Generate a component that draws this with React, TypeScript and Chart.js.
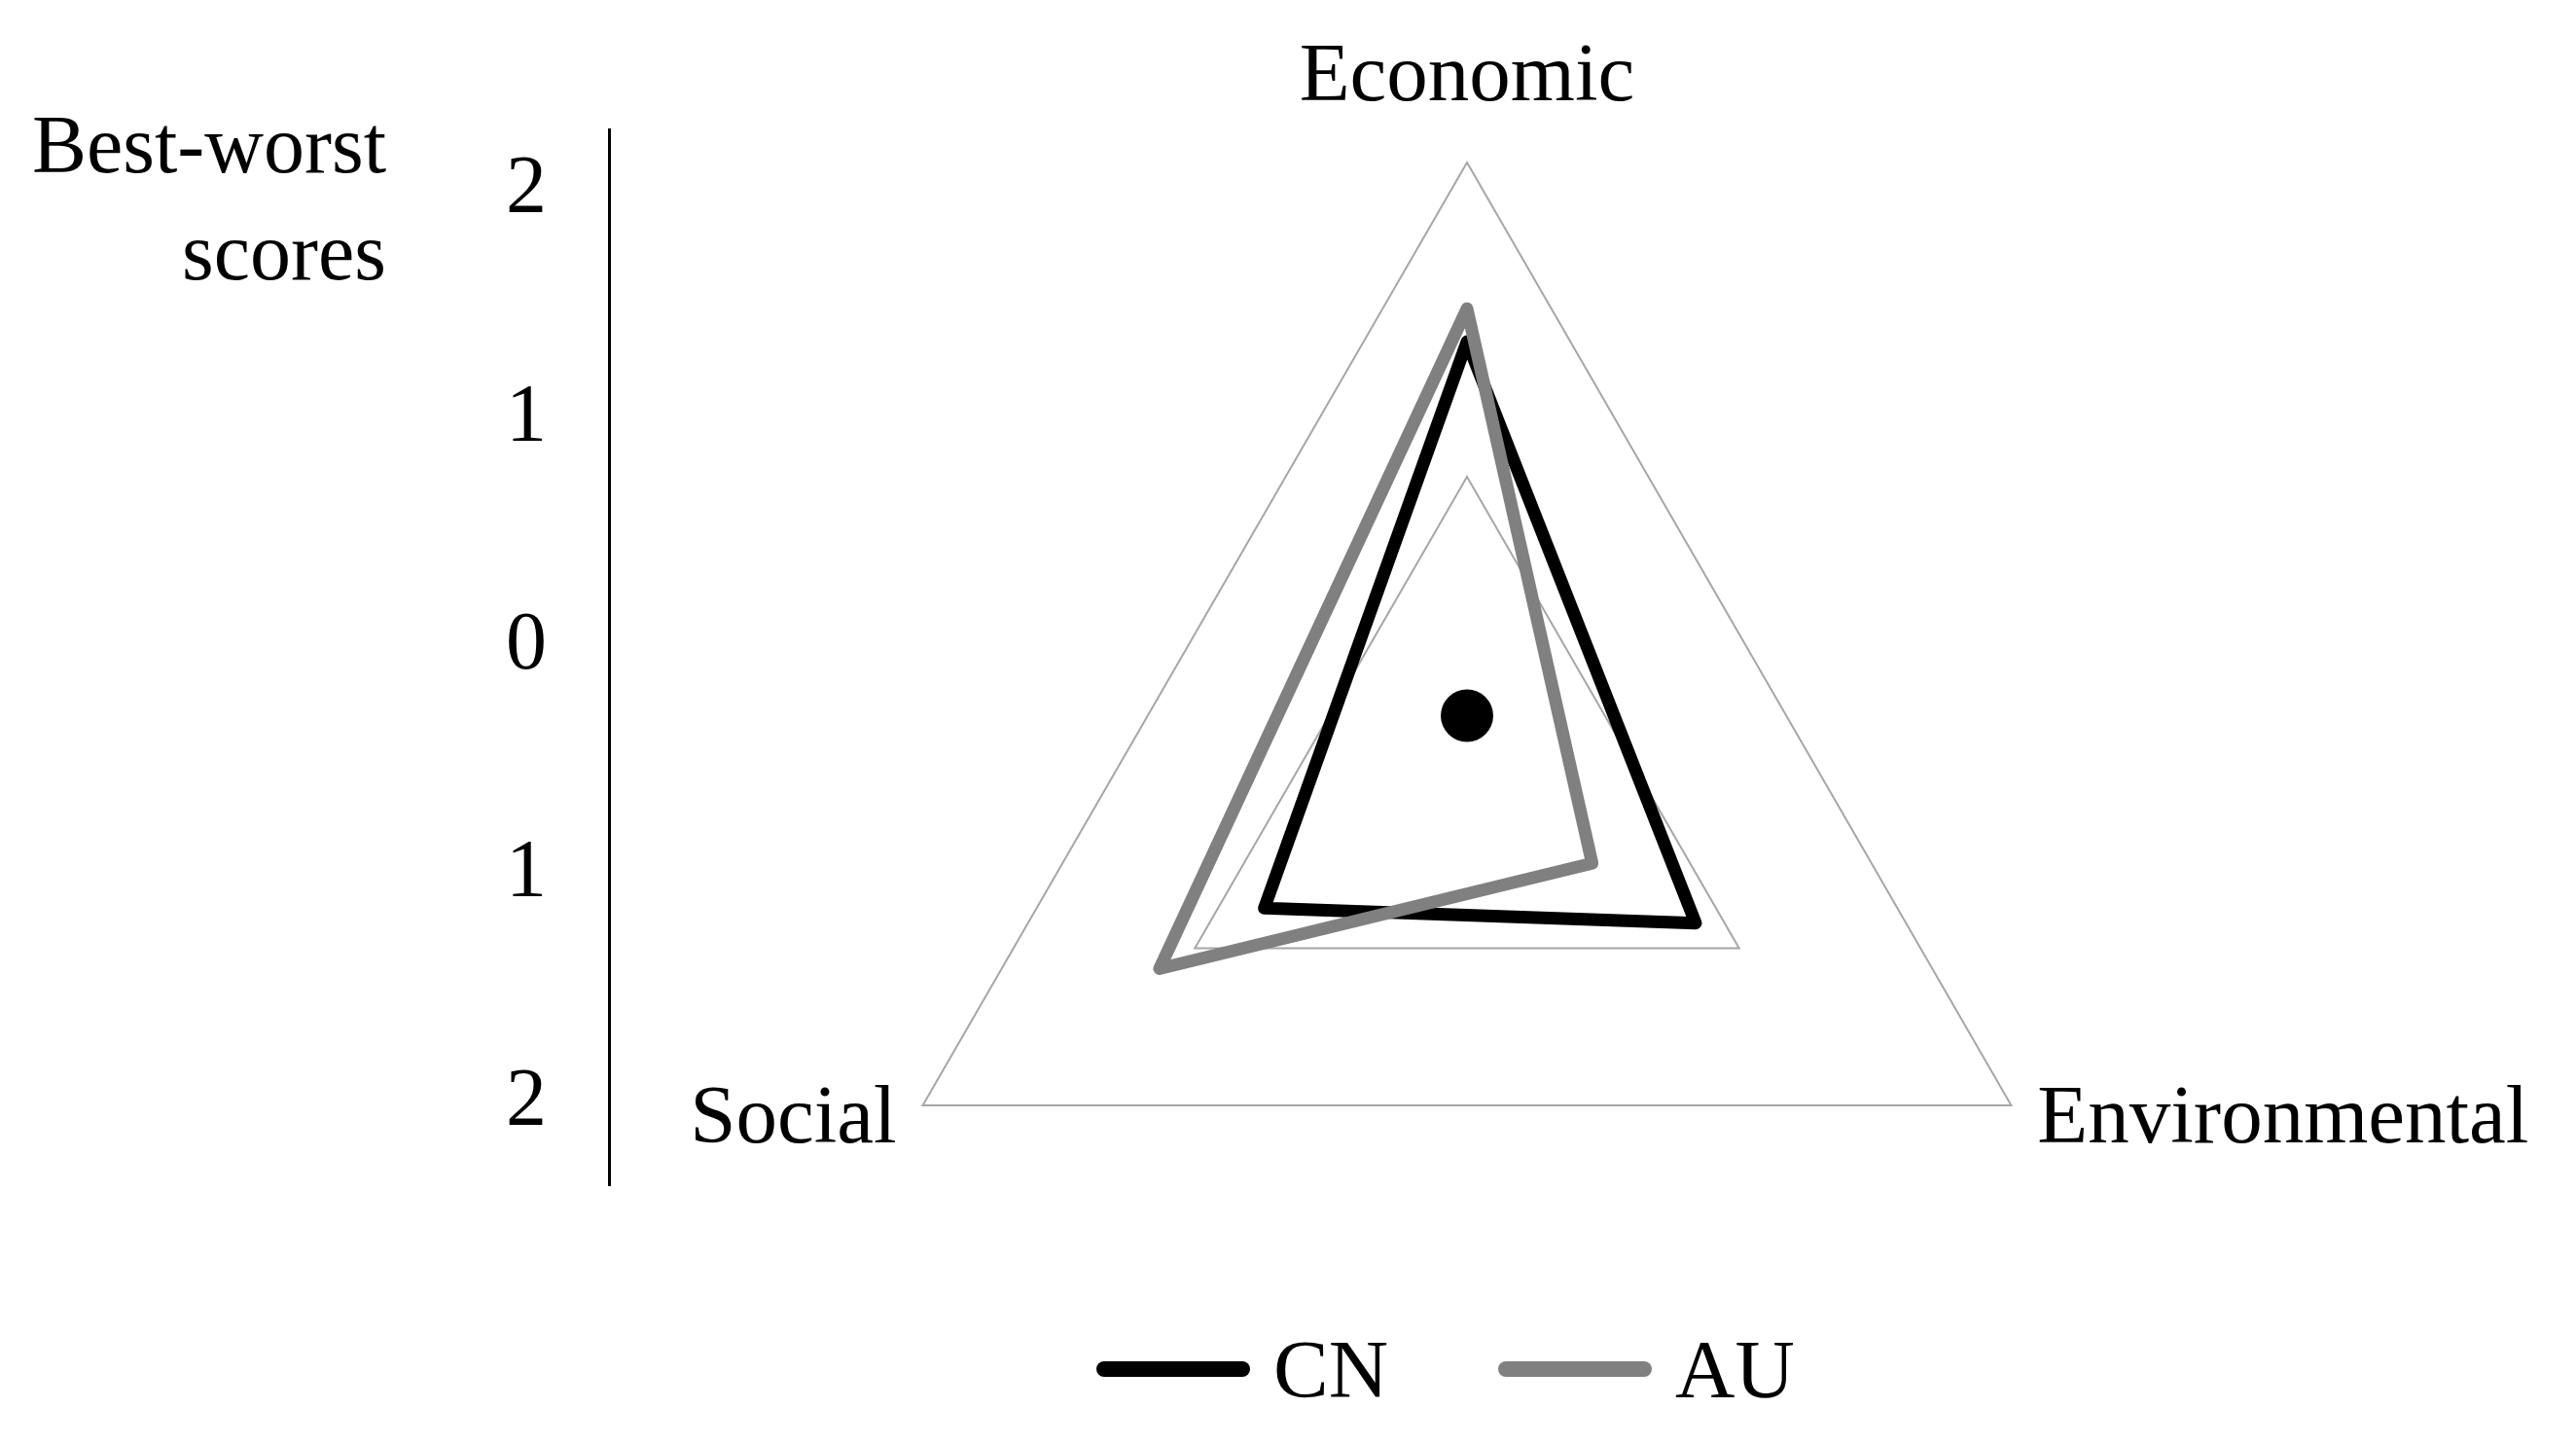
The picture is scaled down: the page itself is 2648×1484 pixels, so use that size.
import React, { useEffect, useRef } from 'react'
import { Chart, registerables } from 'chart.js'

Chart.register(...registerables)

// three sustainability dimensions, clockwise from the top
const dimensions = ['Economic', 'Environmental', 'Social']
const cnScores = [0.86, -0.32, -0.51]
const auScores = [1.07, -1.08, 0.26]
// the single black marker near the centre, on the Economic spoke
const centreMark = [-1.52, null, null]
const seriesNames = ['CN', 'AU']
const seriesColors = ['#000000', '#808080']
// left-hand best-worst score axis
const scoreTicks = [2, 1, 0, -1, -2]

const FONT = '"Liberation Serif", "Times New Roman", serif'

// draws the dimension names just outside the triangle corners
const labelGap = [86, 31, 31]
const cornerLabels = {
  id: 'cornerLabels',
  afterDraw(chart: any) {
    const scale = chart.scales.r
    const ctx = chart.ctx
    ctx.save()
    ctx.font = `85px ${FONT}`
    ctx.fillStyle = '#000'
    ctx.textBaseline = 'middle'
    chart.data.labels.forEach((label: string, i: number) => {
      const p = scale.getPointPosition(i, scale.drawingArea + labelGap[i])
      ctx.textAlign = i === 0 ? 'center' : i === 1 ? 'left' : 'right'
      ctx.fillText(label, p.x, p.y)
    })
    ctx.restore()
  }
}

export default function App(){
  const axisRef = useRef<HTMLCanvasElement | null>(null)
  const radarRef = useRef<HTMLCanvasElement | null>(null)

  useEffect(()=>{
    if(!axisRef.current || !radarRef.current) return

    const axis = new Chart(axisRef.current, {
      type: 'line',
      data: { labels: [], datasets: [] },
      options: {
        animation: false,
        responsive: true,
        maintainAspectRatio: false,
        layout: { padding: { top: 133, bottom: 266, left: 0, right: 0 } },
        plugins: { legend: { display: false }, tooltip: { enabled: false } },
        scales: {
          x: { display: false },
          y: {
            min: -2.36,
            max: 2.27,
            afterBuildTicks: (s: any) => { s.ticks = scoreTicks.map(value => ({ value })) },
            afterFit: (s: any) => { s.width = 626 },
            grid: { display: false, drawTicks: false },
            border: { display: true, color: '#000', width: 3 },
            ticks: {
              padding: 64,
              color: '#000',
              font: { family: FONT, size: 84 },
              callback: (v: any) => String(Math.abs(Number(v)))
            }
          }
        }
      }
    } as any)

    const radar = new Chart(radarRef.current, {
      type: 'radar',
      data: {
        labels: dimensions,
        datasets: [
          { label: seriesNames[0], data: cnScores, borderColor: seriesColors[0], borderWidth: 13, order: 2 },
          { label: seriesNames[1], data: auScores, borderColor: seriesColors[1], borderWidth: 13, order: 1 },
          {
            label: 'marker',
            data: centreMark,
            showLine: false,
            pointRadius: 27,
            pointBackgroundColor: '#000',
            pointBorderWidth: 0,
            order: 0
          }
        ]
      },
      options: {
        animation: false,
        responsive: true,
        maintainAspectRatio: false,
        layout: { padding: { top: 167, bottom: 25, left: 862, right: 494 } },
        plugins: { legend: { display: false }, tooltip: { enabled: false } },
        elements: {
          line: { fill: false, tension: 0, borderJoinStyle: 'round' },
          point: { radius: 0, hitRadius: 0 }
        },
        scales: {
          r: {
            min: -2,
            max: 2,
            ticks: { display: false, stepSize: 2 },
            grid: { color: '#a6a6a6', lineWidth: 2 },
            angleLines: { display: false },
            pointLabels: { display: false }
          }
        }
      },
      plugins: [cornerLabels]
    } as any)

    return ()=> { axis.destroy(); radar.destroy() }
  }, [])

  return (
    <div style={{position:'fixed', left:0, top:0, width:2648, height:1484, background:'#fff', fontFamily:FONT, color:'#000'}}>
      <div style={{position:'absolute', left:0, top:0, width:700, height:1484}}>
        <canvas ref={axisRef}></canvas>
      </div>
      <div style={{position:'absolute', left:0, top:94, width:397, textAlign:'right', fontSize:84, lineHeight:'110px'}}>
        Best-worst<br/>scores
      </div>
      <div style={{position:'absolute', left:0, top:0, width:2648, height:1484}}>
        <canvas ref={radarRef}></canvas>
      </div>
      <div style={{position:'absolute', left:1127, top:1357, height:100, display:'flex', alignItems:'center'}}>
        {seriesNames.map((name, i)=>(
          <div key={name} style={{display:'flex', alignItems:'center', marginRight: i === 0 ? 113 : 0}}>
            <div style={{width:158, height:16, borderRadius:8, background:seriesColors[i], marginRight:24}}></div>
            <span style={{fontSize:85, lineHeight:'85px'}}>{name}</span>
          </div>
        ))}
      </div>
    </div>
  )
}
